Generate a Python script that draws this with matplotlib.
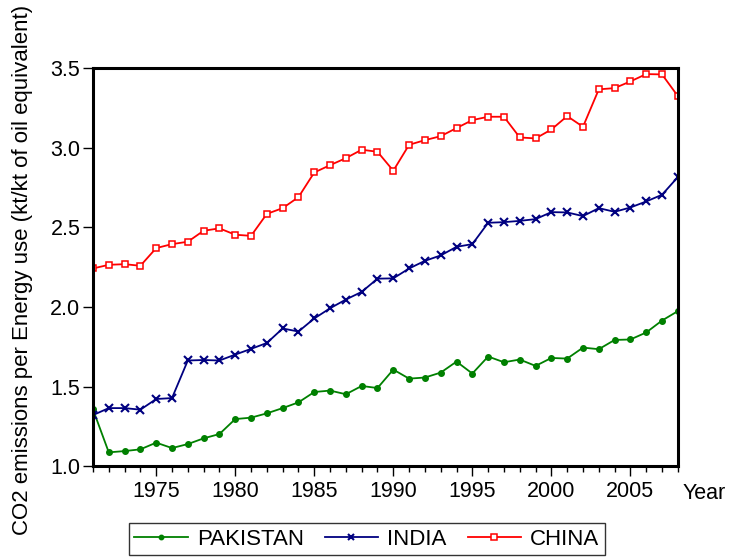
import matplotlib
matplotlib.use("Agg")
import matplotlib.pyplot as plt
from matplotlib.ticker import MultipleLocator

plt.rcParams['font.family'] = ['Liberation Sans', 'DejaVu Sans']

years = list(range(1971, 2009))
pakistan = [1.357, 1.087, 1.095, 1.106, 1.148, 1.114, 1.139, 1.175, 1.202, 1.296,
            1.305, 1.332, 1.365, 1.401, 1.466, 1.475, 1.452, 1.504, 1.491, 1.607,
            1.550, 1.557, 1.588, 1.657, 1.582, 1.689, 1.653, 1.670, 1.630, 1.680,
            1.676, 1.745, 1.735, 1.793, 1.796, 1.840, 1.915, 1.974]
india = [1.321, 1.365, 1.365, 1.355, 1.422, 1.428, 1.664, 1.667, 1.664, 1.701,
         1.737, 1.774, 1.865, 1.846, 1.928, 1.992, 2.047, 2.095, 2.178, 2.180,
         2.242, 2.290, 2.324, 2.378, 2.395, 2.529, 2.533, 2.541, 2.552, 2.596,
         2.594, 2.571, 2.621, 2.598, 2.625, 2.663, 2.705, 2.816]
china = [2.242, 2.265, 2.269, 2.259, 2.370, 2.395, 2.410, 2.479, 2.494, 2.454,
         2.447, 2.585, 2.621, 2.690, 2.845, 2.891, 2.935, 2.988, 2.975, 2.856,
         3.019, 3.048, 3.073, 3.124, 3.174, 3.195, 3.195, 3.065, 3.059, 3.115,
         3.199, 3.132, 3.367, 3.375, 3.417, 3.463, 3.461, 3.325]
xticks = [1975, 1980, 1985, 1990, 1995, 2000, 2005]
yticks = [1.0, 1.5, 2.0, 2.5, 3.0, 3.5]

fig = plt.figure(figsize=(7.32, 5.59), dpi=100)
ax = fig.add_axes([0.127, 0.166, 0.799, 0.712])

ax.plot(years, pakistan, color='#008000', marker='o', markersize=4, lw=1.3, label='PAKISTAN')
ax.plot(years, india, color='#000080', marker='x', markersize=6, mew=1.5, lw=1.3, label='INDIA')
ax.plot(years, china, color='#ff0000', marker='s', markersize=5, mfc='white', mew=1.1, lw=1.3, label='CHINA')

ax.set_xlim(1971, 2008)
ax.set_ylim(1.0, 3.5)
ax.set_xticks(xticks)
ax.set_xticklabels([str(x) for x in xticks])
ax.xaxis.set_minor_locator(MultipleLocator(1))
ax.set_yticks(yticks)
ax.set_yticklabels([f'{y:.1f}' for y in yticks])
ax.tick_params(axis='both', which='major', labelsize=15.5, direction='out', length=7, width=1)
ax.tick_params(axis='x', which='minor', direction='out', length=4, width=1)
ax.tick_params(axis='y', which='major', pad=2)
for s in ax.spines.values():
    s.set_linewidth(2.2)

ax.set_ylabel('CO2 emissions per Energy use (kt/kt of oil equivalent)', fontsize=16)
ax.yaxis.set_label_coords(-0.102, 0.492)
fig.text(0.932, 0.118, 'Year', fontsize=15.5, ha='left', va='center')

leg = fig.legend(loc='upper center', bbox_to_anchor=(0.501, 0.064), ncol=3, fontsize=16,
                 frameon=True, fancybox=False, edgecolor='black', handlelength=2.4,
                 handletextpad=0.4, columnspacing=0.95, borderpad=0.25, borderaxespad=0,
                 markerscale=0.8)
leg.get_frame().set_linewidth(1.0)

fig.savefig('out.png', dpi=100)
